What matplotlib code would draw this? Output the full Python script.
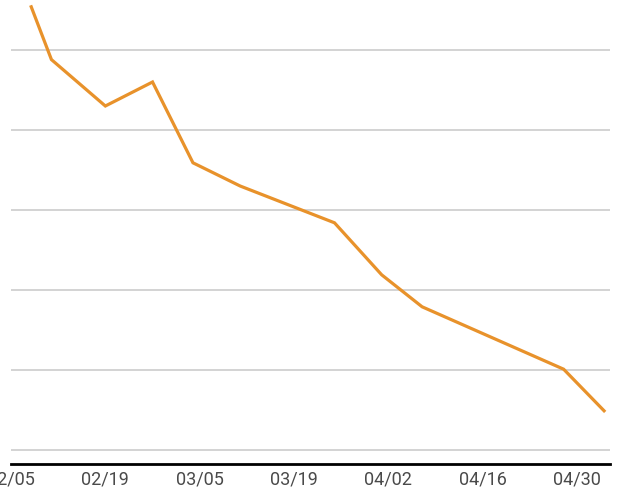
import matplotlib
matplotlib.use("Agg")
import matplotlib.pyplot as plt
import matplotlib.dates as mdates
import pandas as pd

# weekly-ish readings (non-leap year: ticks are 14 days apart)
dates = ["2019-02-08", "2019-02-11", "2019-02-19", "2019-02-26", "2019-03-04",
         "2019-03-11", "2019-03-25", "2019-04-01", "2019-04-07", "2019-04-28",
         "2019-05-04"]
values = [55.4, 48.8, 43.0, 46.0, 35.9, 33.0, 28.4, 21.9, 17.9, 10.1, 4.9]

tick_dates = ["2019-02-05", "2019-02-19", "2019-03-05", "2019-03-19",
              "2019-04-02", "2019-04-16", "2019-04-30"]
grid_values = [0, 10, 20, 30, 40, 50]

x = pd.to_datetime(dates)
ticks = pd.to_datetime(tick_dates)

plt.rcParams['font.family'] = ['Roboto', 'DejaVu Sans']

fig = plt.figure(figsize=(6.18, 5.0), dpi=100)
ax = fig.add_axes([11 / 618, 36 / 500, 599 / 618, 464 / 500])

ax.plot(x, values, color="#e8922b", lw=2.3, solid_joinstyle="miter", zorder=3,
        clip_on=False)

# 02/05 sits just off the left edge, so its label gets cut like the original
start = mdates.date2num(ticks[0])
ax.set_xlim(start + 0.41, start + 88.88)
ax.set_ylim(-1.75, 56.25)

ax.set_yticks(grid_values)
ax.set_yticklabels([])
ax.tick_params(axis="y", length=0)
ax.yaxis.grid(True, color="#cccccc", lw=1.2)
ax.set_axisbelow(True)

ax.set_xticks(ticks)
ax.xaxis.set_major_formatter(mdates.DateFormatter("%m/%d"))
ax.tick_params(axis="x", length=0, pad=5, labelsize=13, labelcolor="#4a4a4a")
for lbl in ax.get_xticklabels():
    lbl.set_clip_on(False)

for side in ["top", "left", "right"]:
    ax.spines[side].set_visible(False)
ax.spines["bottom"].set_color("black")
ax.spines["bottom"].set_linewidth(2)

fig.savefig("out.png", dpi=100)
